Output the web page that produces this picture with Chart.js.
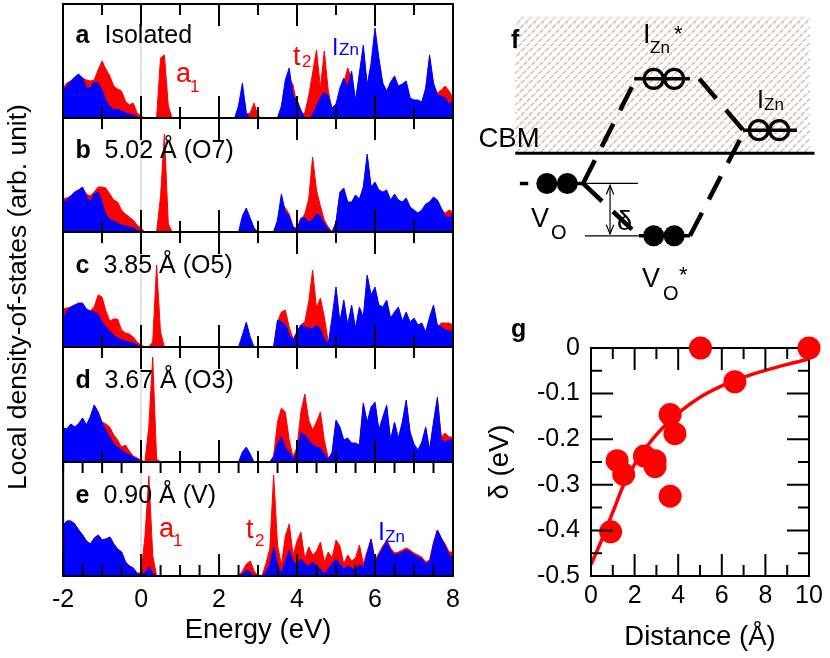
<!DOCTYPE html>
<html>
<head>
<meta charset="utf-8">
<title>Local density of states</title>
<script src="https://cdn.jsdelivr.net/npm/chart.js@4.4.1/dist/chart.umd.min.js"></script>
<style>
  html, body { margin: 0; padding: 0; background: #fff; }
  #wrap { position: relative; width: 830px; height: 658px; overflow: hidden; }
  canvas { position: absolute; }
  svg { position: absolute; left: 0; top: 0; }
  svg text { font-family: "Liberation Sans", Arial, sans-serif; }
</style>
</head>
<body>
<div id="wrap">
  <canvas id="pa"></canvas>
  <canvas id="pb"></canvas>
  <canvas id="pc"></canvas>
  <canvas id="pd"></canvas>
  <canvas id="pe"></canvas>
  <canvas id="pf"></canvas>
  <canvas id="pg"></canvas>
  <svg width="830" height="658">
    <text x="26" y="297" font-size="26.5" text-anchor="middle" transform="rotate(-90 26 297)">Local density-of-states (arb. unit)</text>
    <g font-size="25">
      <text x="75.5" y="43" font-weight="bold">a</text><text x="104.5" y="43">Isolated</text>
      <text x="75.5" y="158" font-weight="bold">b</text><text x="104.5" y="158">5.02 Å (O7)</text>
      <text x="75.5" y="273" font-weight="bold">c</text><text x="103.5" y="273">3.85 Å (O5)</text>
      <text x="75.5" y="388" font-weight="bold">d</text><text x="104.5" y="388">3.67 Å (O3)</text>
      <text x="75.5" y="503" font-weight="bold">e</text><text x="103.5" y="503">0.90 Å (V)</text>
    </g>
    <g fill="#ff0000">
      <text x="176" y="82" font-size="27">a</text><text x="190" y="92" font-size="17">1</text>
      <text x="293" y="65" font-size="27">t</text><text x="302" y="67" font-size="17">2</text>
      <text x="159" y="537" font-size="27">a</text><text x="173" y="546" font-size="17">1</text>
      <text x="246" y="538" font-size="27">t</text><text x="255" y="546" font-size="17">2</text>
    </g>
    <g fill="#0000ff">
      <text x="332" y="55" font-size="23">I</text><text x="339" y="55" font-size="17">Zn</text>
      <text x="378" y="540" font-size="25">I</text><text x="385" y="542" font-size="17">Zn</text>
    </g>
    <text x="511" y="48" font-size="25" font-weight="bold">f</text>
    <text x="478.5" y="147" font-size="27.5">CBM</text>
    <text x="643" y="43" font-size="27">I</text><text x="650" y="53" font-size="17">Zn</text><text x="674" y="41" font-size="22">*</text>
    <text x="757" y="108" font-size="25">I</text><text x="764" y="110" font-size="17">Zn</text>
    <text x="531" y="227" font-size="27">V</text><text x="551" y="239" font-size="20">O</text>
    <text x="642" y="287" font-size="27">V</text><text x="663" y="300" font-size="20">O</text><text x="679" y="282" font-size="22">*</text>
    <text x="617" y="230" font-size="27">δ</text>
    <text x="511" y="337" font-size="25" font-weight="bold">g</text>
  </svg>
</div>
<script>
// energy grid (eV) shared by panels a-e
const energy = [
  -2.0, -1.9, -1.8, -1.7, -1.6, -1.5, -1.4, -1.3, -1.2, -1.1,
  -1.0, -0.9, -0.8, -0.7, -0.6, -0.5, -0.4, -0.3, -0.2, -0.1,
  0.0, 0.1, 0.2, 0.3, 0.4, 0.5, 0.6, 0.7, 0.8, 0.9,
  1.0, 1.1, 1.2, 1.3, 1.4, 1.5, 1.6, 1.7, 1.8, 1.9,
  2.0, 2.1, 2.2, 2.3, 2.4, 2.5, 2.6, 2.7, 2.8, 2.9,
  3.0, 3.1, 3.2, 3.3, 3.4, 3.5, 3.6, 3.7, 3.8, 3.9,
  4.0, 4.1, 4.2, 4.3, 4.4, 4.5, 4.6, 4.7, 4.8, 4.9,
  5.0, 5.1, 5.2, 5.3, 5.4, 5.5, 5.6, 5.7, 5.8, 5.9,
  6.0, 6.1, 6.2, 6.3, 6.4, 6.5, 6.6, 6.7, 6.8, 6.9,
  7.0, 7.1, 7.2, 7.3, 7.4, 7.5, 7.6, 7.7, 7.8, 7.9,
  8.0
];

// a: isolated
const blueA = [
  28, 32, 37, 41, 44, 40, 30, 30, 36, 35,
  28, 17, 12, 8, 9, 7, 5, 4, 3, 1,
  0, 0, 0, 0, 0, 0, 0, 0, 0, 0,
  0, 0, 0, 0, 0, 0, 0, 0, 0, 0,
  0, 0, 0, 0, 0, 12, 35, 5, 0, 0,
  0, 0, 0, 0, 0, 0, 12, 38, 50, 22,
  18, 8, 0, 0, 3, 12, 20, 26, 22, 10,
  14, 30, 40, 30, 47, 18, 45, 73, 33, 55,
  90, 60, 35, 27, 36, 42, 32, 34, 37, 20,
  18, 18, 16, 30, 63, 35, 23, 22, 20, 14,
  17
];
const redA = [
  30, 35, 37, 39, 40, 40, 38, 37, 38, 48,
  57, 49, 42, 32, 29, 27, 17, 13, 15, 5,
  2, 0, 0, 0, 0, 60, 63, 12, 0, 0,
  0, 0, 0, 0, 0, 0, 0, 0, 0, 0,
  0, 0, 0, 0, 0, 10, 30, 4, 5, 15,
  2, 0, 0, 0, 0, 0, 10, 30, 40, 33,
  12, 3, 5, 22, 45, 68, 30, 67, 28, 8,
  10, 25, 35, 50, 40, 15, 40, 70, 30, 50,
  85, 55, 30, 25, 33, 40, 30, 32, 35, 18,
  17, 16, 15, 28, 60, 33, 25, 28, 32, 27,
  20
];

// b: 5.02 A (O7)
const blueB = [
  29, 32, 36, 40, 42, 45, 36, 30, 38, 40,
  30, 17, 13, 11, 9, 7, 6, 5, 4, 2,
  0, 0, 0, 0, 0, 0, 0, 0, 0, 0,
  0, 0, 0, 0, 0, 0, 0, 0, 0, 0,
  0, 0, 0, 0, 0, 0, 16, 24, 14, 4,
  0, 0, 0, 0, 0, 12, 38, 20, 16, 5,
  3, 14, 14, 10, 12, 18, 16, 8, 3, 0,
  10, 40, 44, 30, 30, 37, 33, 45, 78, 45,
  50, 42, 40, 42, 32, 38, 32, 30, 34, 25,
  22, 19, 22, 28, 30, 35, 32, 24, 16, 14,
  20
];
const redB = [
  33, 34, 36, 40, 42, 44, 38, 36, 40, 45,
  45, 44, 38, 32, 30, 22, 18, 15, 12, 7,
  4, 0, 0, 0, 0, 35, 98, 8, 0, 0,
  0, 0, 0, 0, 0, 0, 0, 0, 0, 0,
  0, 0, 0, 0, 0, 0, 0, 0, 0, 0,
  0, 0, 0, 0, 0, 10, 30, 24, 18, 5,
  3, 12, 18, 33, 75, 42, 26, 12, 5, 0,
  9, 38, 42, 28, 28, 35, 31, 43, 75, 43,
  48, 40, 38, 40, 30, 36, 30, 28, 32, 23,
  20, 17, 20, 26, 28, 33, 30, 22, 19, 22,
  20
];

// c: 3.85 A (O5)
const blueC = [
  27, 36, 40, 42, 44, 44, 38, 36, 35, 33,
  25, 20, 16, 12, 9, 7, 6, 5, 4, 2,
  0, 0, 0, 0, 0, 0, 0, 0, 0, 0,
  0, 0, 0, 0, 0, 0, 0, 0, 0, 0,
  0, 0, 0, 0, 0, 0, 12, 25, 10, 0,
  0, 0, 0, 0, 0, 27, 25, 23, 12, 7,
  15, 22, 20, 19, 18, 22, 18, 8, 3, 30,
  60, 25, 47, 22, 42, 19, 40, 30, 72, 52,
  60, 42, 40, 47, 29, 35, 40, 26, 35, 25,
  29, 22, 24, 15, 30, 42, 22, 20, 17, 16,
  15
];
const redC = [
  38, 39, 40, 42, 42, 40, 36, 36, 40, 52,
  50, 36, 26, 28, 28, 17, 14, 13, 10, 5,
  2, 0, 0, 5, 82, 15, 0, 0, 0, 0,
  0, 0, 0, 0, 0, 0, 0, 0, 0, 0,
  0, 0, 0, 0, 0, 0, 0, 0, 0, 0,
  0, 0, 0, 0, 0, 25, 35, 37, 20, 8,
  15, 22, 25, 45, 77, 39, 49, 30, 5, 0,
  58, 23, 45, 20, 40, 17, 38, 28, 70, 50,
  58, 40, 38, 45, 27, 33, 38, 24, 33, 23,
  27, 20, 22, 14, 28, 40, 20, 24, 24, 24,
  22
];

// d: 3.67 A (O3)
const blueD = [
  34, 33, 38, 35, 38, 44, 37, 45, 57, 50,
  39, 32, 25, 18, 15, 12, 9, 7, 5, 3,
  0, 0, 0, 0, 0, 0, 0, 0, 0, 0,
  0, 0, 0, 0, 0, 0, 0, 0, 0, 0,
  0, 0, 0, 0, 0, 0, 10, 15, 8, 0,
  0, 0, 0, 0, 5, 18, 25, 14, 10, 3,
  10, 29, 27, 22, 17, 15, 14, 8, 2, 10,
  42, 35, 22, 24, 19, 19, 17, 59, 40, 55,
  60, 32, 45, 57, 22, 40, 24, 40, 62, 30,
  18, 12, 20, 35, 12, 40, 65, 22, 20, 22,
  22
];
const redD = [
  34, 33, 38, 35, 38, 44, 37, 45, 57, 50,
  40, 38, 35, 27, 22, 15, 17, 11, 6, 4,
  2, 0, 35, 105, 3, 0, 0, 0, 0, 0,
  0, 0, 0, 0, 0, 0, 0, 0, 0, 0,
  0, 0, 0, 0, 0, 0, 0, 0, 0, 0,
  0, 0, 0, 0, 6, 40, 54, 50, 22, 5,
  15, 50, 68, 42, 32, 40, 50, 22, 4, 9,
  40, 33, 20, 22, 18, 18, 16, 57, 38, 53,
  58, 30, 43, 55, 20, 38, 22, 38, 60, 28,
  16, 11, 18, 33, 11, 38, 62, 25, 29, 25,
  25
];

// e: 0.90 A (V)
const blueE = [
  51, 55, 55, 52, 46, 41, 35, 32, 38, 41,
  36, 37, 39, 32, 27, 24, 14, 10, 8, 2,
  2, 3, 9, 3, 0, 0, 0, 0, 0, 0,
  0, 0, 0, 0, 0, 0, 0, 0, 0, 0,
  0, 0, 0, 0, 0, 0, 2, 6, 4, 0,
  0, 0, 4, 11, 29, 12, 2, 14, 26, 14,
  11, 17, 12, 10, 14, 10, 7, 2, 7, 12,
  17, 12, 7, 10, 8, 5, 12, 8, 22, 37,
  14, 21, 28, 34, 26, 21, 22, 24, 26, 24,
  21, 19, 17, 12, 14, 32, 46, 38, 30, 21,
  18
];
const redE = [
  51, 55, 55, 52, 46, 41, 35, 32, 38, 41,
  36, 37, 39, 32, 27, 24, 14, 10, 8, 3,
  3, 40, 100, 20, 0, 0, 0, 0, 0, 0,
  0, 0, 0, 0, 0, 0, 0, 0, 0, 0,
  0, 0, 0, 0, 0, 0, 5, 12, 15, 5,
  0, 0, 12, 27, 101, 31, 11, 40, 52, 21,
  35, 44, 17, 29, 21, 25, 34, 14, 24, 18,
  36, 30, 12, 21, 15, 18, 31, 12, 25, 37,
  16, 23, 30, 36, 28, 23, 24, 26, 28, 26,
  23, 21, 19, 14, 16, 34, 46, 38, 32, 24,
  24
];

const energyMajor = [-2, 0, 2, 4, 6, 8];
const energyMinor = [-1, 1, 3, 5, 7];
const energyHalf = [-1.5, -0.5, 0.5, 1.5, 2.5, 3.5, 4.5, 5.5, 6.5, 7.5];

// g: delta vs distance
const distance = [0.90, 1.20, 1.50, 2.45, 2.94, 2.94, 3.63, 3.63, 3.85, 6.60];
const delta = [-0.403, -0.247, -0.277, -0.237, -0.247, -0.260, -0.325, -0.146, -0.188, -0.074];
const distanceZero = [5.02, 10.0];
const deltaZero = [0, 0];
const fitDistance = [0, 0.5, 1, 1.5, 2, 2.5, 3, 3.5, 4, 5, 6, 7, 8, 9, 10];
const fitDelta = [-0.475, -0.42, -0.36, -0.30, -0.255, -0.22, -0.19, -0.165, -0.143, -0.108, -0.083, -0.064, -0.049, -0.036, -0.024];
const distMajor = [2, 4, 6, 8];
const distMinor = [1, 3, 5, 7, 9];
const deltaMajor = [-0.1, -0.2, -0.3, -0.4];
const deltaMinor = [-0.05, -0.15, -0.25, -0.35, -0.45];

// f: schematic, in page pixels (y downward)
const hatchBox = [505, 5, 822, 152];
const cbm = [[505, 153], [827, 153]];
const levels = [
  [[633, 72], [693, 72]],     // I_Zn*
  [[750, 128], [808, 128]],   // I_Zn
  [[510, 186], [519, 186]],   // V_O
  [[561, 186], [580, 186]],
  [[638, 243], [693, 243]]    // V_O*
];
const paths = [
  [[578, 186], [635, 72]],
  [[578, 186], [638, 243]],
  [[693, 243], [752, 128]],
  [[703, 72], [752, 130]]
];
const guides = [
  [[578, 186], [637, 186]],
  [[580, 243], [638, 243]],
  [[607, 188], [607, 241]],
  [[603, 198], [607, 188], [611, 198]],
  [[603, 231], [607, 241], [611, 231]]
];
const openOrbitals = [[654, 72], [676, 72], [767, 128], [789, 128]];
const filledOrbitals = [[539, 186], [561, 186], [654, 243], [676, 243]];

Chart.defaults.font.family = '"Liberation Sans", Arial, sans-serif';
Chart.defaults.color = '#000';

function place(id, left, top, w, h) {
  const c = document.getElementById(id);
  c.width = w;
  c.height = h;
  c.style.left = left + 'px';
  c.style.top = top + 'px';
  return c;
}

function series(xs, ys) {
  return xs.map((x, i) => ({ x: x, y: ys[i] }));
}

function pts(list) {
  return list.map(p => ({ x: p[0], y: p[1] }));
}

function tick(ctx, px, y0, dir, len) {
  ctx.moveTo(px, y0);
  ctx.lineTo(px, y0 + dir * len);
}

// frame, zero line and inside ticks of the DOS panels
const dosFrame = {
  id: 'dosFrame',
  beforeDatasetsDraw(chart) {
    const { ctx, chartArea: a } = chart;
    const x0 = chart.scales.x.getPixelForValue(0);
    ctx.save();
    ctx.strokeStyle = '#cfcfcf';
    ctx.lineWidth = 1.2;
    ctx.beginPath();
    ctx.moveTo(x0, a.top);
    ctx.lineTo(x0, a.bottom);
    ctx.stroke();
    ctx.restore();
  },
  afterDatasetsDraw(chart, args, opts) {
    const { ctx, chartArea: a } = chart;
    const x = chart.scales.x;
    ctx.save();
    ctx.strokeStyle = '#000';
    ctx.lineWidth = 2;
    ctx.strokeRect(a.left, a.top, a.width, a.height);
    ctx.beginPath();
    energyMajor.forEach(v => {
      const p = x.getPixelForValue(v);
      tick(ctx, p, a.top, 1, opts.last ? 11 : 22);
      tick(ctx, p, a.bottom, -1, 22);
    });
    energyMinor.forEach(v => {
      const p = x.getPixelForValue(v);
      tick(ctx, p, a.top, 1, 11);
      tick(ctx, p, a.bottom, -1, 11);
    });
    if (opts.last) {
      energyHalf.forEach(v => {
        const p = x.getPixelForValue(v);
        tick(ctx, p, a.top, 1, 11);
        tick(ctx, p, a.bottom, -1, 11);
      });
    }
    ctx.stroke();
    ctx.restore();
  }
};

function dosChart(id, top, h, blue, red, last) {
  const pad = 12;
  const axisH = last ? 71 : 0;
  const canvas = place(id, 43, top - pad, 430, h + pad * 2 + axisH);
  const xAxis = {
    type: 'linear', min: -2, max: 8, display: last,
    ticks: { stepSize: 2, font: { size: 25 }, padding: 9, maxRotation: 0, autoSkip: false },
    grid: { display: false, drawTicks: false },
    border: { display: false },
    title: { display: true, text: 'Energy (eV)', font: { size: 27.5 }, padding: 0 }
  };
  if (last) xAxis.afterFit = s => { s.height = axisH; };
  return new Chart(canvas, {
    type: 'line',
    data: {
      datasets: [
        { data: series(energy, blue), borderColor: '#0000ff', backgroundColor: '#0000ff',
          borderWidth: 1, fill: 'origin', pointRadius: 0, tension: 0, order: 1 },
        { data: series(energy, red), borderColor: '#ff0000', backgroundColor: '#ff0000',
          borderWidth: 1, fill: 'origin', pointRadius: 0, tension: 0, order: 2 }
      ]
    },
    options: {
      responsive: false,
      animation: false,
      devicePixelRatio: 1,
      layout: { padding: { left: 20, right: 20, top: pad, bottom: pad } },
      plugins: { legend: { display: false }, tooltip: { enabled: false }, dosFrame: { last: last } },
      scales: {
        x: xAxis,
        y: { min: 0, max: h, display: false }
      }
    },
    plugins: [dosFrame]
  });
}

dosChart('pa', 4, 114, blueA, redA, false);
dosChart('pb', 118, 114, blueB, redB, false);
dosChart('pc', 232, 115, blueC, redC, false);
dosChart('pd', 347, 115, blueD, redD, false);
dosChart('pe', 462, 114, blueE, redE, true);

// panel f
const hatch = {
  id: 'hatch',
  beforeDatasetsDraw(chart) {
    const { ctx } = chart;
    const x = chart.scales.x, y = chart.scales.y;
    const l = x.getPixelForValue(hatchBox[0]), t = y.getPixelForValue(hatchBox[1]);
    const r = x.getPixelForValue(hatchBox[2]), b = y.getPixelForValue(hatchBox[3]);
    const h = b - t;
    ctx.save();
    ctx.beginPath();
    ctx.rect(l, t, r - l, h);
    ctx.clip();
    ctx.strokeStyle = 'rgba(165, 70, 70, 0.75)';
    ctx.lineWidth = 1;
    ctx.setLineDash([5, 1.5]);
    ctx.beginPath();
    for (let s = l - h; s < r; s += 8) {
      ctx.moveTo(s, b);
      ctx.lineTo(s + h, t);
    }
    ctx.stroke();
    ctx.restore();
  }
};

const fSets = [
  { data: pts(openOrbitals), pointRadius: 9.5, pointBorderWidth: 3.2, pointBorderColor: '#000',
    pointBackgroundColor: 'rgba(0,0,0,0)', showLine: false, order: 0 },
  { data: pts(filledOrbitals), pointRadius: 10.5, pointBorderWidth: 0,
    pointBackgroundColor: '#000', showLine: false, order: 0 },
  { data: pts(cbm), borderColor: '#000', borderWidth: 3, showLine: true, pointRadius: 0, order: 1 }
];
levels.forEach(l => fSets.push({ data: pts(l), borderColor: '#000', borderWidth: 3.5, showLine: true, pointRadius: 0, order: 1 }));
paths.forEach(l => fSets.push({ data: pts(l), borderColor: '#000', borderWidth: 4.5, borderDash: [26, 15], showLine: true, pointRadius: 0, order: 2 }));
guides.forEach(l => fSets.push({ data: pts(l), borderColor: '#000', borderWidth: 1.2, showLine: true, pointRadius: 0, order: 2 }));

new Chart(place('pf', 470, 0, 360, 310), {
  type: 'scatter',
  data: { datasets: fSets },
  options: {
    responsive: false,
    animation: false,
    devicePixelRatio: 1,
    layout: { padding: 0 },
    plugins: { legend: { display: false }, tooltip: { enabled: false } },
    scales: {
      x: { type: 'linear', min: 470, max: 830, display: false },
      y: { type: 'linear', min: 0, max: 310, reverse: true, display: false }
    }
  },
  plugins: [hatch]
});

// panel g
const gFrame = {
  id: 'gFrame',
  afterDatasetDraw(chart, args) {
    if (args.index !== 1) return;
    const { ctx, chartArea: a } = chart;
    const x = chart.scales.x, y = chart.scales.y;
    ctx.save();
    ctx.strokeStyle = '#000';
    ctx.lineWidth = 2;
    ctx.strokeRect(a.left, a.top, a.width, a.height);
    ctx.beginPath();
    distMajor.concat(distMinor).forEach(v => {
      const p = x.getPixelForValue(v);
      const len = distMajor.includes(v) ? 22 : 11;
      tick(ctx, p, a.top, 1, len);
      tick(ctx, p, a.bottom, -1, len);
    });
    deltaMajor.concat(deltaMinor).forEach(v => {
      const p = y.getPixelForValue(v);
      const len = deltaMajor.includes(v) ? 22 : 11;
      ctx.moveTo(a.left, p); ctx.lineTo(a.left + len, p);
      ctx.moveTo(a.right, p); ctx.lineTo(a.right - len, p);
    });
    ctx.stroke();
    ctx.restore();
  }
};

new Chart(place('pg', 480, 320, 350, 338), {
  type: 'scatter',
  data: {
    datasets: [
      { type: 'line', data: series(fitDistance, fitDelta), borderColor: '#ff0000', borderWidth: 3.5,
        pointRadius: 0, tension: 0.4, cubicInterpolationMode: 'monotone', fill: false, order: 3 },
      { data: series(distance, delta), pointRadius: 11.5, pointBackgroundColor: '#ff0000',
        pointBorderWidth: 0, clip: false, order: 2 },
      { data: series(distanceZero, deltaZero), pointRadius: 11.5, pointBackgroundColor: '#ff0000',
        pointBorderWidth: 0, clip: false, order: 1 }
    ]
  },
  options: {
    responsive: false,
    animation: false,
    devicePixelRatio: 1,
    layout: { padding: { left: 0, right: 21, top: 28, bottom: 4 } },
    plugins: { legend: { display: false }, tooltip: { enabled: false } },
    scales: {
      x: {
        type: 'linear', min: 0, max: 10,
        ticks: { stepSize: 2, font: { size: 25 }, padding: 5, maxRotation: 0, autoSkip: false },
        grid: { display: false, drawTicks: false },
        border: { display: false },
        title: { display: true, text: 'Distance (Å)', font: { size: 27.5 }, padding: 0 },
        afterFit(s) { s.height = 78; }
      },
      y: {
        type: 'linear', min: -0.5, max: 0,
        ticks: { stepSize: 0.1, font: { size: 25 }, padding: 11, autoSkip: false },
        grid: { display: false, drawTicks: false },
        border: { display: false },
        title: { display: true, text: 'δ (eV)', font: { size: 27.5 }, padding: { top: 4, bottom: 0 } },
        afterFit(s) { s.width = 111; }
      }
    }
  },
  plugins: [gFrame]
});
</script>
</body>
</html>
